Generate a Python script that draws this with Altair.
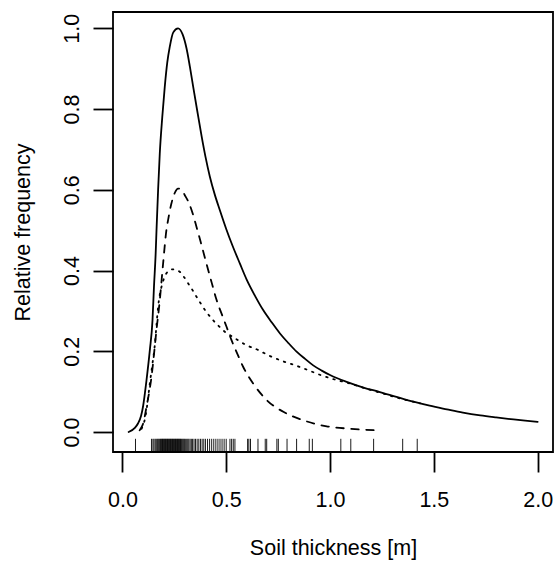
import altair as alt
import pandas as pd

# ---- data ----
solid_x = [0.03, 0.06, 0.075, 0.09, 0.10, 0.116, 0.132, 0.145, 0.152, 0.160, 0.165, 0.172,
           0.180, 0.192, 0.204, 0.216, 0.228, 0.245, 0.268, 0.29, 0.309, 0.325, 0.341, 0.36,
           0.381, 0.40, 0.421, 0.445, 0.469, 0.50, 0.53, 0.566, 0.598, 0.64, 0.678, 0.72,
           0.759, 0.80, 0.839, 0.88, 0.919, 0.96, 1.0, 1.08, 1.161, 1.24, 1.32, 1.402, 1.48,
           1.563, 1.64, 1.724, 1.80, 1.884, 1.94, 2.0]
solid_y = [0.0, 0.01, 0.021, 0.04, 0.065, 0.128, 0.202, 0.277, 0.359, 0.44, 0.51, 0.60,
           0.69, 0.78, 0.855, 0.915, 0.954, 0.99, 1.0, 0.985, 0.95, 0.905, 0.855, 0.797,
           0.734, 0.682, 0.633, 0.588, 0.550, 0.503, 0.462, 0.417, 0.378, 0.336, 0.302, 0.271,
           0.244, 0.220, 0.199, 0.181, 0.165, 0.152, 0.141, 0.124, 0.110, 0.099, 0.087, 0.075,
           0.065, 0.056, 0.048, 0.041, 0.036, 0.031, 0.028, 0.025]

dashed_x = [0.083, 0.09, 0.10, 0.116, 0.14, 0.164, 0.18, 0.196, 0.212, 0.22, 0.236, 0.252,
            0.268, 0.285, 0.30, 0.318, 0.333, 0.357, 0.38, 0.405, 0.43, 0.453, 0.48, 0.502,
            0.525, 0.55, 0.582, 0.63, 0.695, 0.775, 0.871, 0.984, 1.096, 1.225]
dashed_y = [0.004, 0.01, 0.021, 0.062, 0.136, 0.252, 0.326, 0.417, 0.50, 0.525, 0.566, 0.592,
            0.603, 0.600, 0.587, 0.57, 0.55, 0.508, 0.465, 0.417, 0.37, 0.328, 0.29, 0.26,
            0.228, 0.198, 0.161, 0.12, 0.079, 0.050, 0.029, 0.014, 0.008, 0.004]

dotted_x = [0.092, 0.105, 0.116, 0.125, 0.132, 0.145, 0.156, 0.165, 0.172, 0.18, 0.188, 0.20,
            0.212, 0.228, 0.244, 0.26, 0.276, 0.295, 0.317, 0.337, 0.357, 0.38, 0.405, 0.43,
            0.453, 0.475, 0.494, 0.518, 0.542, 0.598, 0.654, 0.711, 0.775, 0.839,
            0.90, 0.96, 1.016, 1.096, 1.177, 1.257, 1.338, 1.434]
dotted_y = [0.008, 0.025, 0.054, 0.09, 0.12, 0.17, 0.215, 0.27, 0.31, 0.34, 0.359, 0.38,
            0.393, 0.401, 0.403, 0.401, 0.397, 0.385, 0.368, 0.352, 0.335, 0.316, 0.297, 0.281,
            0.268, 0.257, 0.248, 0.240, 0.232, 0.215, 0.203, 0.188, 0.175, 0.164,
            0.152, 0.140, 0.131, 0.120, 0.107, 0.095, 0.083, 0.071]

rug_x = [0.063,
         0.140, 0.147, 0.152, 0.158, 0.163, 0.168, 0.172, 0.176, 0.180, 0.184, 0.187, 0.190,
         0.193, 0.196, 0.199, 0.202, 0.205, 0.208, 0.211, 0.214, 0.217, 0.220, 0.223, 0.226,
         0.229, 0.232, 0.235, 0.238, 0.241, 0.244, 0.247, 0.250, 0.253, 0.256, 0.259, 0.262,
         0.265, 0.268, 0.271, 0.274, 0.277, 0.280, 0.284, 0.288, 0.292, 0.296, 0.300, 0.305,
         0.310, 0.315, 0.320, 0.326, 0.332, 0.338, 0.345, 0.352, 0.360, 0.368, 0.376, 0.384,
         0.392, 0.400, 0.410, 0.420, 0.430, 0.440, 0.450, 0.460, 0.470, 0.480, 0.490, 0.500,
         0.518, 0.526, 0.534, 0.542,
         0.603, 0.609, 0.617, 0.653, 0.688, 0.695, 0.744, 0.751, 0.793, 0.839, 0.900, 0.915,
         1.052, 1.100, 1.210, 1.350, 1.420]

x_ticks = [0.0, 0.5, 1.0, 1.5, 2.0]
y_ticks = [0.0, 0.2, 0.4, 0.6, 0.8, 1.0]
x_title = "Soil thickness [m]"
y_title = "Relative frequency"

FONT = "Liberation Sans"
FS = 21.5
LW = 1.8
W, H = 440, 440

solid_df = pd.DataFrame({"x": solid_x, "y": solid_y})
dashed_df = pd.DataFrame({"x": dashed_x, "y": dashed_y})
dotted_df = pd.DataFrame({"x": dotted_x, "y": dotted_y})
rug_df = pd.DataFrame({"x": rug_x})

x_scale = alt.Scale(domain=[-0.0453, 2.074], nice=False, zero=False)
y_scale = alt.Scale(domain=[-0.0496, 1.0404], nice=False, zero=False)

x_axis = alt.Axis(values=x_ticks, format=".1f", title=x_title, grid=False, domain=False,
                  tickSize=20, tickWidth=LW, tickColor="black",
                  labelFont=FONT, labelFontSize=FS, labelColor="black", labelPadding=34,
                  labelBaseline="alphabetic", labelAlign="center", labelFlush=False,
                  labelOverlap=False,
                  titleFont=FONT, titleFontSize=FS, titleFontWeight="normal", titleColor="black",
                  titleX=W / 2, titleY=102, titleAlign="center", titleBaseline="alphabetic")
y_axis = alt.Axis(values=y_ticks, format=".1f", title=y_title, grid=False, domain=False,
                  tickSize=20, tickWidth=LW, tickColor="black",
                  labelFont=FONT, labelFontSize=FS, labelColor="black", labelPadding=14.8,
                  labelAngle=270, labelBaseline="alphabetic", labelAlign="center",
                  labelFlush=False, labelOverlap=False,
                  titleFont=FONT, titleFontSize=FS, titleFontWeight="normal", titleColor="black",
                  titleAngle=270, titleX=-84, titleY=H / 2, titleAlign="center",
                  titleBaseline="alphabetic")

base_x = alt.X("x:Q", scale=x_scale, axis=x_axis)
base_y = alt.Y("y:Q", scale=y_scale, axis=y_axis)

solid = alt.Chart(solid_df).mark_line(color="black", strokeWidth=LW, strokeCap="round",
                                      interpolate="monotone").encode(x=base_x, y=base_y)
dashed = alt.Chart(dashed_df).mark_line(color="black", strokeWidth=LW, strokeCap="round",
                                        interpolate="monotone",
                                        strokeDash=[7.5, 7.5]).encode(x=base_x, y=base_y)
dotted = alt.Chart(dotted_df).mark_line(color="black", strokeWidth=LW, strokeCap="round",
                                        interpolate="monotone",
                                        strokeDash=[1.5, 6]).encode(x=base_x, y=base_y)
rug = alt.Chart(rug_df).mark_rule(color="black", strokeWidth=0.9).encode(
    x=base_x, y=alt.value(H), y2=alt.value(H - 13.2))

chart = alt.layer(solid, dashed, dotted, rug).properties(
    width=W, height=H, autosize="none",
    padding={"left": 113, "top": 12, "right": 3, "bottom": 112},
    background="white",
).configure_view(stroke="black", strokeWidth=LW, fill="white")

chart.save("out.html", embed_options={"renderer": "svg", "actions": False})
